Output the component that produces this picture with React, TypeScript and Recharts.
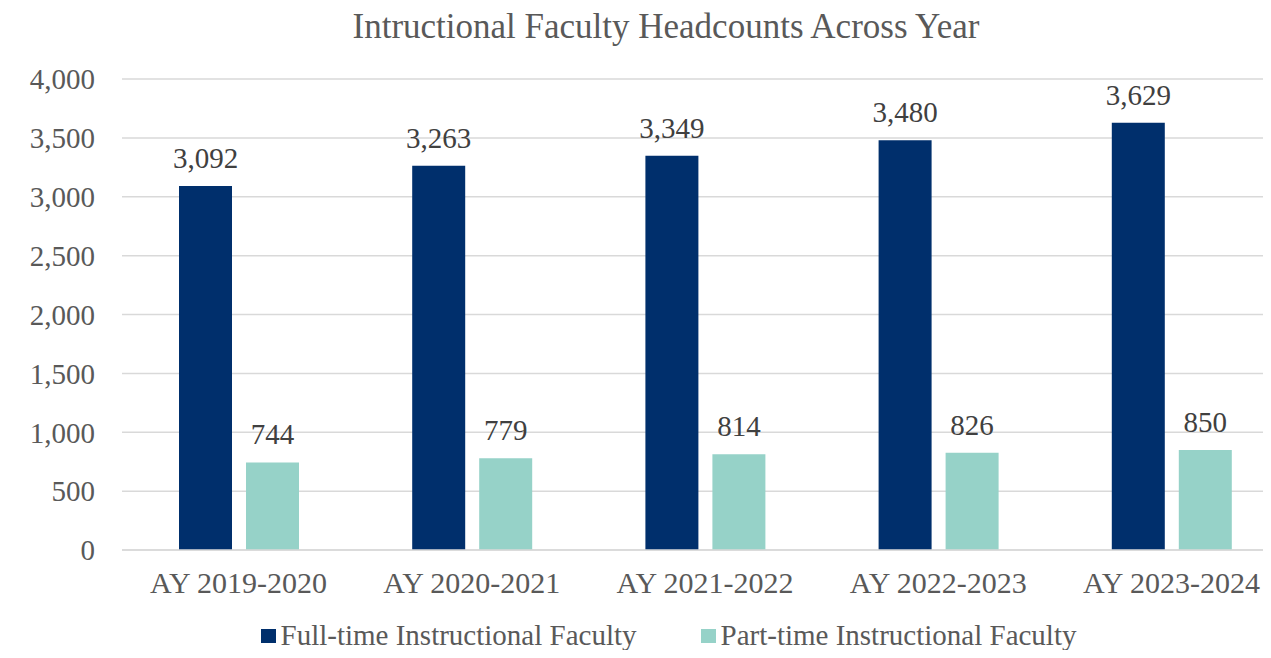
import { BarChart, Bar, XAxis, YAxis, CartesianGrid, Legend, LabelList } from "recharts";

const years = ["AY 2019-2020", "AY 2020-2021", "AY 2021-2022", "AY 2022-2023", "AY 2023-2024"];
const fullTime = [3092, 3263, 3349, 3480, 3629];
const partTime = [744, 779, 814, 826, 850];
const yTicks = [0, 500, 1000, 1500, 2000, 2500, 3000, 3500, 4000];

const data = years.map((year, i) => ({ year, full: fullTime[i], part: partTime[i] }));

const FONT = "'Liberation Serif', 'Times New Roman', serif";
const TEXT = "#595959";
const DARK = "#002F6C";
const TEAL = "#96D2C8";
const fmt = (v: any) => Number(v).toLocaleString("en-US");

function LegendBox({ payload }: any) {
  return (
    <div style={{ display: "flex", justifyContent: "center", paddingLeft: 66, fontSize: 29, fontFamily: FONT, color: TEXT, lineHeight: "34px" }}>
      {(payload || []).map((p: any, i: number) => (
        <div key={i} style={{ display: "flex", alignItems: "center", marginLeft: i ? 64 : 0 }}>
          <span style={{ width: 15, height: 14, background: p.color, marginRight: 5, marginTop: 2, display: "inline-block" }} />
          <span>{p.value}</span>
        </div>
      ))}
    </div>
  );
}

export default function App() {
  return (
    <div style={{ margin: -8, width: 1271, height: 658, position: "relative", background: "#fff", fontFamily: FONT, overflow: "hidden" }}>
      <div style={{ position: "absolute", left: 0, top: 7, width: 1332, textAlign: "center", fontSize: 35, color: TEXT }}>
        Intructional Faculty Headcounts Across Year
      </div>
      <BarChart
        width={1271}
        height={658}
        data={data}
        margin={{ top: 79, right: -17, bottom: 0, left: 0 }}
        barCategoryGap={56}
        barGap={14}
      >
        <CartesianGrid vertical={false} stroke="#d9d9d9" strokeWidth={1.5} />
        <XAxis
          dataKey="year"
          axisLine={{ stroke: "#d9d9d9", strokeWidth: 1.5 }}
          tickLine={false}
          tickSize={0}
          tickMargin={22}
          height={74}
          tick={{ fontSize: 30, fill: TEXT, fontFamily: FONT }}
        />
        <YAxis
          domain={[0, 4000]}
          ticks={yTicks}
          axisLine={false}
          tickLine={false}
          tickSize={0}
          tickMargin={27}
          width={122}
          tickFormatter={fmt}
          tick={{ fontSize: 29, fill: TEXT, fontFamily: FONT }}
        />
        <Legend verticalAlign="bottom" content={<LegendBox />} wrapperStyle={{ left: 0, width: 1271, bottom: 6 }} />
        <Bar dataKey="full" name="Full-time Instructional Faculty" fill={DARK} barSize={53} isAnimationActive={false}>
          <LabelList dataKey="full" position="top" offset={18} formatter={fmt} style={{ fontSize: 29, fill: "#404040", fontFamily: FONT }} />
        </Bar>
        <Bar dataKey="part" name="Part-time Instructional Faculty" fill={TEAL} barSize={53} isAnimationActive={false}>
          <LabelList dataKey="part" position="top" offset={18} formatter={fmt} style={{ fontSize: 29, fill: "#404040", fontFamily: FONT }} />
        </Bar>
      </BarChart>
    </div>
  );
}
